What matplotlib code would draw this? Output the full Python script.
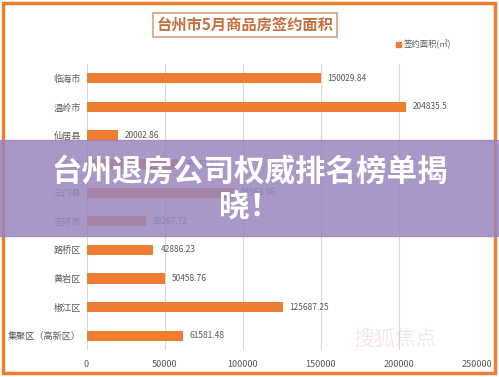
import matplotlib
matplotlib.use("Agg")
import matplotlib.pyplot as plt
from matplotlib.patches import Rectangle

plt.rcParams['font.family'] = ['Noto Sans CJK SC', 'DejaVu Sans']

regions = ['临海市', '温岭市', '仙居县', '天台县', '三门县', '玉环市',
           '路桥区', '黄岩区', '椒江区', '集聚区（高新区）']
areas = [150029.84, 204835.5, 20002.86, 58963.56, 94563.96, 38267.72,
         42886.23, 50458.76, 125687.25, 61581.48]
value_labels = ['150029.84', '204835.5', '20002.86', '58963.56', '94563.96',
                '38267.72', '42886.23', '50458.76', '125687.25', '61581.48']
xticks = [0, 50000, 100000, 150000, 200000, 250000]

W, H = 499, 377
fig = plt.figure(figsize=(W / 100, H / 100), dpi=100)
fig.patch.set_facecolor('white')

# orange frame
fig.add_artist(Rectangle((3 / W, 4 / H), 492 / W, 370 / H, transform=fig.transFigure,
                         fill=False, edgecolor='#ed7d31', linewidth=2.5))

ax = fig.add_axes([86.5 / W, 1 - 350 / H, 390 / W, 286 / H])
ypos = list(range(len(regions)))
ax.barh(ypos, areas, height=0.36, color='#ed7d31', zorder=3)
for y, v, lab in zip(ypos, areas, value_labels):
    ax.text(v + 4500, y, lab, va='center', ha='left', fontsize=6, color='#595959')

ax.set_yticks(ypos)
ax.set_yticklabels(regions, fontsize=6.6, color='#595959')
ax.set_ylim(len(regions) - 0.5, -0.5)
ax.set_xlim(0, 250000)
ax.set_xticks(xticks)
ax.set_xticklabels([str(t) for t in xticks], fontsize=6.5, color='#595959')
ax.tick_params(length=0, axis='y', pad=4)
ax.tick_params(length=0, axis='x', pad=7)
ax.grid(axis='x', color='#d9d9d9', linewidth=0.8, zorder=0)
for s in ax.spines.values():
    s.set_visible(False)

# chart title box
fig.text(245 / W, 1 - 25 / H, '台州市5月商品房签约面积', ha='center', va='center',
         fontsize=11, color='#c4703e', fontweight='bold',
         bbox=dict(boxstyle='square,pad=0.25', facecolor='white',
                   edgecolor='#d9a27a', linewidth=1.2))

# legend
fig.add_artist(Rectangle((396 / W, 1 - 47 / H), 5 / W, 5 / H, transform=fig.transFigure,
                         color='#ed7d31'))
fig.text(404 / W, 1 - 44.5 / H, '签约面积(㎡)', ha='left', va='center',
         fontsize=6, color='#595959')

# watermark
fig.text(395 / W, 1 - 339 / H, '搜狐焦点', ha='center', va='center',
         fontsize=15, color='#e8b0b0', alpha=0.3)

# purple banner overlay
fig.add_artist(Rectangle((0, 1 - 236 / H), 1, 96 / H, transform=fig.transFigure,
                         color='#9a86bd', alpha=0.85, zorder=10))
fig.text(250 / W, 1 - 171 / H, '台州退房公司权威排名榜单揭', ha='center', va='center',
         fontsize=22, fontweight='bold', color='white', zorder=11)
fig.text(250 / W, 1 - 207 / H, '晓！', ha='center', va='center',
         fontsize=22, fontweight='bold', color='white', zorder=11)

fig.savefig('out.png', dpi=100)
